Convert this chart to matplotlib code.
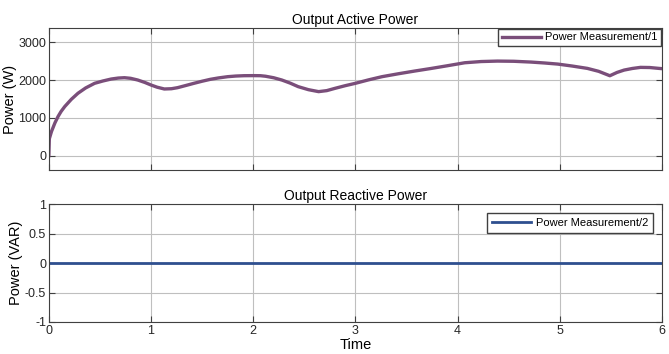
import numpy as np
import matplotlib.pyplot as plt

# values
time_p = [0, 0.005, 0.026, 0.06, 0.09, 0.12, 0.156, 0.22, 0.285, 0.36, 0.448, 0.53, 0.61, 0.68,
          0.74, 0.8, 0.87, 0.94, 1.0, 1.06, 1.13, 1.2, 1.26, 1.34, 1.42, 1.5, 1.58, 1.66, 1.75,
          1.83, 1.91, 2.0, 2.07, 2.12, 2.2, 2.28, 2.36, 2.44, 2.54, 2.64, 2.72, 2.8, 2.9, 3.0,
          3.13, 3.26, 3.42, 3.58, 3.74, 3.9, 4.07, 4.23, 4.39, 4.55, 4.72, 4.85, 4.98, 5.12,
          5.27, 5.38, 5.49, 5.56, 5.63, 5.71, 5.79, 5.88, 5.97, 6.0]
active_p = [0, 450, 640, 870, 1035, 1170, 1300, 1490, 1650, 1790, 1913, 1975, 2026, 2052,
            2061, 2045, 2000, 1935, 1868, 1810, 1763, 1770, 1798, 1855, 1913, 1968, 2018, 2055, 2088,
            2105, 2114, 2116, 2114, 2100, 2060, 2000, 1920, 1825, 1745, 1693, 1720, 1780, 1850, 1913,
            2005, 2088, 2165, 2237, 2305, 2377, 2456, 2488, 2500, 2495, 2474, 2450, 2421, 2370,
            2307, 2230, 2113, 2200, 2263, 2305, 2334, 2330, 2307, 2300]
time_q = [0, 6]
reactive_q = [0, 0]

purple = '#7A4E7A'
blue = '#2E4F8F'
grid_c = '#BFBFBF'
edge_c = '#404040'

plt.rcParams['font.family'] = ['Liberation Sans', 'DejaVu Sans']

fig = plt.figure(figsize=(6.69, 3.54), dpi=100)
ax1 = fig.add_axes([0.073, 0.52, 0.9165, 0.401])
ax2 = fig.add_axes([0.073, 0.0904, 0.9165, 0.3333])

def style(ax):
    ax.set_xlim(0, 6)
    ax.set_xticks(range(7))
    ax.grid(True, color=grid_c, linewidth=0.8)
    ax.set_axisbelow(True)
    ax.tick_params(direction='in', top=True, right=True, length=4, labelsize=9,
                   color=edge_c, labelcolor='#262626', pad=2)
    for s in ax.spines.values():
        s.set_color(edge_c)
        s.set_linewidth(0.8)

ax1.plot(time_p, active_p, color=purple, linewidth=2.4, label='Power Measurement/1',
         solid_joinstyle='round')
style(ax1)
ax1.set_ylim(-375, 3375)
ax1.set_yticks([0, 1000, 2000, 3000])
ax1.set_xticklabels([])
ax1.set_ylabel('Power (W)', fontsize=10.5, labelpad=1)
ax1.set_title('Output Active Power', fontsize=10, pad=3)
leg1 = ax1.legend(loc='upper right', fontsize=8, fancybox=False, borderaxespad=0.05,
                  handlelength=3.5, borderpad=0.35, handletextpad=0.4)
leg1.get_frame().set_edgecolor(edge_c)
leg1.get_frame().set_alpha(1)

ax2.plot(time_q, reactive_q, color=blue, linewidth=2, label='Power Measurement/2')
style(ax2)
ax2.set_ylim(-1, 1)
ax2.set_yticks([-1, -0.5, 0, 0.5, 1])
ax2.set_yticklabels(['-1', '-0.5', '0', '0.5', '1'])
ax2.set_ylabel('Power (VAR)', fontsize=10.5, labelpad=1)
ax2.set_xlabel('Time', fontsize=10.5, labelpad=1)
ax2.set_title('Output Reactive Power', fontsize=10, pad=3)
leg2 = ax2.legend(loc='upper right', fontsize=8, fancybox=False, borderaxespad=0.8,
                  handlelength=3.5, borderpad=0.45, handletextpad=0.4)
leg2.get_frame().set_edgecolor(edge_c)
leg2.get_frame().set_alpha(1)

fig.savefig('out.png', dpi=100)
